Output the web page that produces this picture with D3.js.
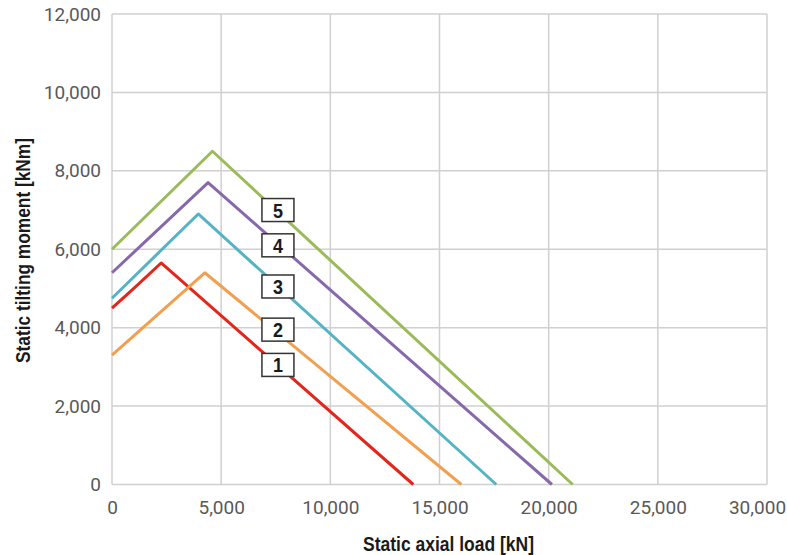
<!DOCTYPE html>
<html>
<head>
<meta charset="utf-8">
<script src="https://cdn.jsdelivr.net/npm/d3@7"></script>
<style>
  html, body { margin: 0; padding: 0; background: #fff; }
  svg { display: block; }
</style>
</head>
<body>
<svg id="chart" width="787" height="555"></svg>
<script>
// ---- data ----
const xTicks = [0, 5000, 10000, 15000, 20000, 25000, 30000];
const yTicks = [0, 2000, 4000, 6000, 8000, 10000, 12000];
const seriesNames = ["1", "2", "3", "4", "5"];
const seriesColors = ["#e2261c", "#f0a050", "#56b3c6", "#8769ab", "#9bbb59"];
// axial load [kN]
const load1 = [0, 1000, 2250, 13800];
const moment1 = [4500, 5000, 5650, 0];
const load2 = [0, 4250, 16000];
const moment2 = [3300, 5400, 0];
const load3 = [0, 3950, 17600];
const moment3 = [4750, 6900, 0];
const load4 = [0, 4400, 20150];
const moment4 = [5400, 7700, 0];
const load5 = [0, 4600, 21100];
const moment5 = [6000, 8500, 0];
const labelLoad = [7600, 7600, 7600, 7600, 7600];
const labelMoment = [3050, 3950, 5050, 6100, 7000];

const loads = [load1, load2, load3, load4, load5];
const moments = [moment1, moment2, moment3, moment4, moment5];

// ---- layout ----
const svg = d3.select("#chart");
const m = { left: 112, right: 767, top: 14, bottom: 484.5 };
const x = d3.scaleLinear().domain([0, 30000]).range([m.left, m.right]);
const y = d3.scaleLinear().domain([0, 12000]).range([m.bottom, m.top]);
const fmt = d3.format(",");
const gridColor = "#d0d0d0";
const tickFont = "Roboto, 'Liberation Sans', sans-serif";
const boldFont = "'Liberation Sans', Arial, sans-serif";

// grid
svg.append("g").selectAll("line").data(yTicks).join("line")
  .attr("x1", m.left).attr("x2", m.right)
  .attr("y1", d => y(d)).attr("y2", d => y(d))
  .attr("stroke", gridColor).attr("stroke-width", 1.5);
svg.append("g").selectAll("line").data(xTicks).join("line")
  .attr("x1", d => x(d)).attr("x2", d => x(d))
  .attr("y1", m.top).attr("y2", m.bottom)
  .attr("stroke", gridColor).attr("stroke-width", 1.5);

// axes (labels only)
const xAxis = d3.axisBottom(x).tickValues(xTicks).tickFormat(fmt).tickSize(0).tickPadding(16);
const gx = svg.append("g").attr("transform", `translate(0,${m.bottom})`).call(xAxis);
gx.select(".domain").remove();
gx.selectAll("text").attr("font-family", tickFont)
  .attr("font-size", 19).attr("fill", "#595959")
  .attr("dx", d => d === 30000 ? -10 : 0);

const yAxis = d3.axisLeft(y).tickValues(yTicks).tickFormat(fmt).tickSize(0).tickPadding(11);
const gy = svg.append("g").attr("transform", `translate(${m.left},0)`).call(yAxis);
gy.select(".domain").remove();
gy.selectAll("text").attr("font-family", tickFont)
  .attr("font-size", 19).attr("fill", "#595959");

// lines
const line = d3.line().x(d => x(d[0])).y(d => y(d[1]));
seriesNames.forEach((name, i) => {
  const pts = loads[i].map((l, j) => [l, moments[i][j]]);
  svg.append("path").datum(pts)
    .attr("d", line)
    .attr("fill", "none")
    .attr("stroke", seriesColors[i])
    .attr("stroke-width", 3)
    .attr("stroke-linejoin", "round");
});

// labels
const bw = 32, bh = 23;
seriesNames.forEach((name, i) => {
  const cx = x(labelLoad[i]), cy = y(labelMoment[i]);
  const g = svg.append("g");
  g.append("rect")
    .attr("x", cx - bw / 2).attr("y", cy - bh / 2)
    .attr("width", bw).attr("height", bh)
    .attr("fill", "#fff").attr("stroke", "#333").attr("stroke-width", 1.5);
  g.append("text")
    .attr("x", cx).attr("y", cy + 7.5)
    .attr("text-anchor", "middle")
    .attr("font-family", boldFont)
    .attr("font-weight", "bold").attr("font-size", 21).attr("fill", "#1a1a1a")
    .attr("textLength", 10).attr("lengthAdjust", "spacingAndGlyphs")
    .text(name);
});

// axis titles
svg.append("text")
  .attr("x", 448.5).attr("y", 551)
  .attr("text-anchor", "middle")
  .attr("font-family", boldFont)
  .attr("font-weight", "bold").attr("font-size", 21).attr("fill", "#1a1a1a")
  .attr("textLength", 171).attr("lengthAdjust", "spacingAndGlyphs")
  .text("Static axial load [kN]");

svg.append("text")
  .attr("transform", `translate(30,250.5) rotate(-90)`)
  .attr("text-anchor", "middle")
  .attr("font-family", boldFont)
  .attr("font-weight", "bold").attr("font-size", 21).attr("fill", "#1a1a1a")
  .attr("textLength", 225).attr("lengthAdjust", "spacingAndGlyphs")
  .text("Static tilting moment [kNm]");
</script>
</body>
</html>
